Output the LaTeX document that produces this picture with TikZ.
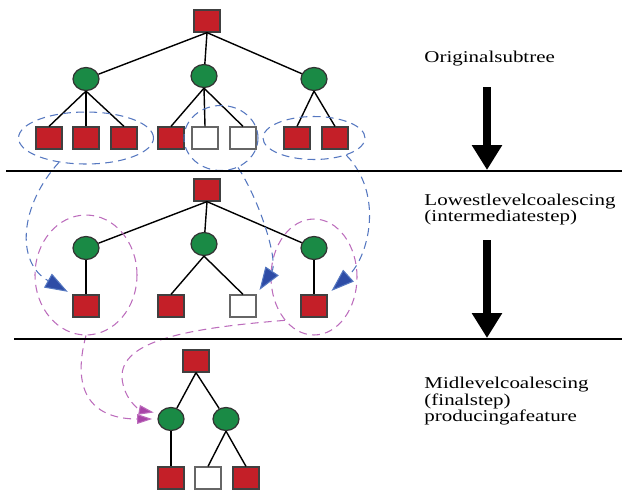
\documentclass[tikz,border=0pt]{standalone}
\usepackage{fontspec}
\setmainfont{Liberation Serif}
\usetikzlibrary{shapes.geometric, arrows.meta}

\definecolor{leafred}{HTML}{C41F28}
\definecolor{nodegreen}{HTML}{1A8A45}
\definecolor{grpblue}{HTML}{5577C0}
\definecolor{tipblue}{HTML}{2E4CA6}
\definecolor{grpmag}{HTML}{BC6CBC}
\definecolor{tipmag}{HTML}{A844A8}

\begin{document}
\begin{tikzpicture}[x = 0.02cm, y = -0.02cm,
  leaf/.style = {draw=black!75, line width=0.7pt, fill=leafred, inner sep=0,
                 minimum width=0.52cm, minimum height=0.44cm},
  empty/.style = {leaf, fill=white, draw=black!60},
  inner/.style = {draw=black!80, line width=0.7pt, fill=nodegreen, ellipse, inner sep=0,
                  minimum width=0.52cm, minimum height=0.46cm},
  edge/.style = {line width=0.8pt},
  bgroup/.style = {draw=grpblue, dash pattern=on 4.5pt off 3pt, line width=0.6pt, ellipse, inner sep=0},
  mgroup/.style = {draw=grpmag, dash pattern=on 4.5pt off 3pt, line width=0.6pt, ellipse, inner sep=0},
  bmove/.style = {draw=grpblue, dash pattern=on 4.5pt off 3pt, line width=0.6pt, shorten >=3pt,
                  -{Triangle[length=13pt, width=9pt, fill=tipblue]}},
  mmove/.style = {draw=grpmag, dash pattern=on 4.5pt off 3pt, line width=0.6pt, shorten >=3pt,
                  -{Triangle[length=8.5pt, width=5.5pt, fill=tipmag]}},
  stage/.style = {line width=4.5pt, -{Triangle[width=16.4pt, length=14.2pt]}},
  caption/.style = {font=\fontsize{9.4}{9.5}\selectfont, anchor=base west, inner sep=0,
                    xscale=1.27, transform shape}]
\useasboundingbox (0, 0) rectangle (622, 491);

% original subtree
\node[leaf] (r) at (207, 21) {};
\node[inner] (a1) at (86, 79) {};
\node[inner] (a2) at (204, 76) {};
\node[inner] (a3) at (314, 79) {};
\node[leaf] (l1) at (49, 138) {};
\node[leaf] (l2) at (86, 138) {};
\node[leaf] (l3) at (124, 138) {};
\node[leaf] (l4) at (171, 138) {};
\node[empty] (l5) at (205, 138) {};
\node[empty] (l6) at (243, 138) {};
\node[leaf] (l7) at (297, 138) {};
\node[leaf] (l8) at (335, 138) {};

\draw[edge] (r.south) -- (a1);
\draw[edge] (r.south) -- (a2);
\draw[edge] (r.south) -- (a3);
\draw[edge] (a1.south) -- (l1.north);
\draw[edge] (a1.south) -- (l2.north);
\draw[edge] (a1.south) -- (l3.north);
\draw[edge] (a2.south) -- (l4.north);
\draw[edge] (a2.south) -- (l5.north);
\draw[edge] (a2.south) -- (l6.north);
\draw[edge] (a3.south) -- (l7.north);
\draw[edge] (a3.south) -- (l8.north);

\node[bgroup, minimum width=2.7cm, minimum height=1.04cm] (g1) at (86, 138) {};
\node[bgroup, minimum width=1.48cm, minimum height=1.3cm] (g2) at (221, 138) {};
\node[bgroup, minimum width=2.04cm, minimum height=0.86cm] (g3) at (314, 138) {};

% lowest level coalescing
\node[leaf] (mr0) at (207, 190) {};
\node[inner] (b1) at (86, 248) {};
\node[inner] (b2) at (204, 244) {};
\node[inner] (b3) at (314, 248) {};
\node[leaf] (m1) at (86, 306) {};
\node[leaf] (m2) at (171, 306) {};
\node[empty] (m3) at (243, 306) {};
\node[leaf] (m4) at (314, 306) {};

\draw[edge] (mr0.south) -- (b1);
\draw[edge] (mr0.south) -- (b2);
\draw[edge] (mr0.south) -- (b3);
\draw[edge] (b1.south) -- (m1.north);
\draw[edge] (b2.south) -- (m2.north);
\draw[edge] (b2.south) -- (m3.north);
\draw[edge] (b3.south) -- (m4.north);

\node[mgroup, minimum width=2.04cm, minimum height=2.4cm] (h1) at (86, 275) {};
\node[mgroup, minimum width=1.72cm, minimum height=2.32cm] (h2) at (314, 277) {};

\draw[bmove] (g1.222) .. controls (20, 205) and (15, 262) .. (m1.north west);
\draw[bmove] (g2.300) .. controls (262, 205) and (278, 262) .. (m3.north east);
\draw[bmove] (g3.332) .. controls (385, 195) and (368, 258) .. (m4.north east);

% mid level coalescing
\node[leaf] (fr) at (196, 361) {};
\node[inner] (c1) at (171, 419) {};
\node[inner] (c2) at (226, 419) {};
\node[leaf] (f1) at (171, 478) {};
\node[empty] (f2) at (208, 478) {};
\node[leaf] (f3) at (246, 478) {};

\draw[edge] (fr.south) -- (c1);
\draw[edge] (fr.south) -- (c2);
\draw[edge] (c1.south) -- (f1.north);
\draw[edge] (c2.south) -- (f2.north);
\draw[edge] (c2.south) -- (f3.north);

\draw[mmove] (h1.south) .. controls (70, 395) and (95, 419) .. (c1.west);
\draw[mmove] (h2.236) .. controls (190, 328) and (120, 340) .. (122, 378)
  .. controls (124, 400) and (140, 410) .. (c1.155);

% separators and stage arrows
\draw[line width=0.7pt] (6, 171) -- (622, 171);
\draw[line width=0.7pt] (14, 339) -- (622, 339);

\coordinate (s1) at (487, 87);
\coordinate (e1) at (487, 170);
\coordinate (s2) at (487, 240);
\coordinate (e2) at (487, 338);
\draw[stage] (s1) -- (e1);
\draw[stage] (s2) -- (e2);

\node[caption] (t1) at (424, 62) {Originalsubtree};
\node[caption] (t2) at (424, 205) {Lowestlevelcoalescing};
\node[caption] (t3) at (424, 221) {(intermediatestep)};
\node[caption] (t4) at (424, 388) {Midlevelcoalescing};
\node[caption] (t5) at (424, 405) {(finalstep)};
\node[caption] (t6) at (424, 421) {producingafeature};
\end{tikzpicture}
\end{document}
